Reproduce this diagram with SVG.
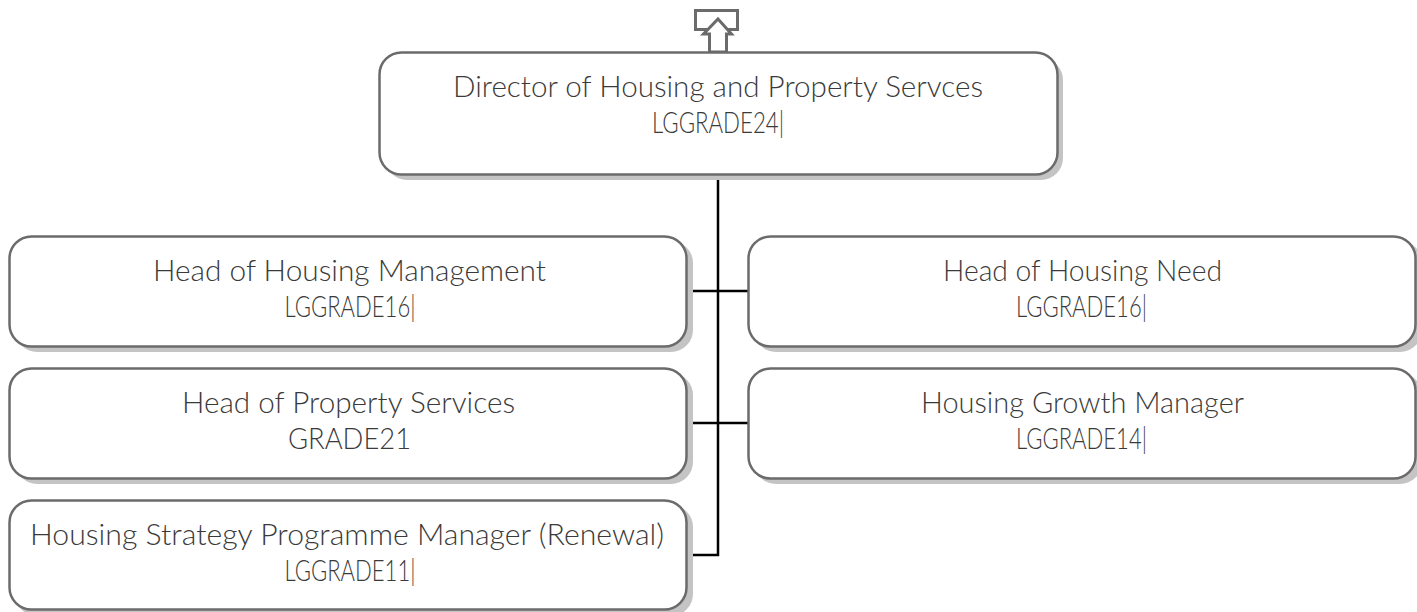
<svg xmlns="http://www.w3.org/2000/svg" width="1417" height="612" viewBox="0 0 1417 612">
<style>
.shadow{fill:#c4c4c4;stroke:none}
.box{fill:#ffffff;stroke:#6b6b6b;stroke-width:2.5}
.t{font-family:Lato,"Open Sans","Liberation Sans",sans-serif;font-weight:300;font-size:29px;fill:#3a3a3a;text-anchor:middle}
.conn{stroke:#000000;stroke-width:2.5;fill:none}
.icon{fill:#ffffff;stroke:#6b6b6b;stroke-width:3}
</style>
<rect width="1417" height="612" fill="#ffffff"/>
<g id="connectors">
<polyline class="conn" points="718,175 718,555 689,555"/>
<line class="conn" x1="689" y1="291" x2="748" y2="291"/>
<line class="conn" x1="689" y1="423" x2="748" y2="423"/>
</g>
<g id="icon">
<rect class="icon" x="695.5" y="10.5" width="42" height="19"/>
<polygon class="icon" points="718,19 731.5,34 726.5,34 726.5,52 709.5,52 709.5,34 703.5,34"/>
</g>
<g id="director">
<rect class="shadow" x="385" y="58" width="678" height="122" rx="22"/>
<rect class="box" x="379.5" y="52.5" width="678" height="122" rx="22"/>
<text class="t" x="718" y="97" textLength="530" lengthAdjust="spacingAndGlyphs">Director of Housing and Property Servces</text>
<text class="t" x="718" y="132.5" textLength="132" lengthAdjust="spacingAndGlyphs">LGGRADE24|</text>
</g>
<g id="head-housing-management">
<rect class="shadow" x="15" y="241" width="678" height="111" rx="22"/>
<rect class="box" x="9.5" y="236.5" width="677" height="110" rx="22"/>
<text class="t" x="349.5" y="281" textLength="393" lengthAdjust="spacingAndGlyphs">Head of Housing Management</text>
<text class="t" x="350" y="316.5" textLength="131" lengthAdjust="spacingAndGlyphs">LGGRADE16|</text>
</g>
<g id="head-housing-need">
<rect class="shadow" x="754" y="241" width="668" height="111" rx="22"/>
<rect class="box" x="748.5" y="236.5" width="667" height="110" rx="22"/>
<text class="t" x="1082.5" y="281" textLength="279" lengthAdjust="spacingAndGlyphs">Head of Housing Need</text>
<text class="t" x="1081.5" y="316.5" textLength="131" lengthAdjust="spacingAndGlyphs">LGGRADE16|</text>
</g>
<g id="head-property-services">
<rect class="shadow" x="15" y="373" width="678" height="111" rx="22"/>
<rect class="box" x="9.5" y="368.5" width="677" height="110" rx="22"/>
<text class="t" x="348.5" y="413" textLength="333" lengthAdjust="spacingAndGlyphs">Head of Property Services</text>
<text class="t" x="349.5" y="448.5" textLength="123" lengthAdjust="spacingAndGlyphs">GRADE21</text>
</g>
<g id="housing-growth-manager">
<rect class="shadow" x="754" y="373" width="668" height="111" rx="22"/>
<rect class="box" x="748.5" y="368.5" width="667" height="110" rx="22"/>
<text class="t" x="1082.5" y="413" textLength="323" lengthAdjust="spacingAndGlyphs">Housing Growth Manager</text>
<text class="t" x="1081.5" y="448.5" textLength="131" lengthAdjust="spacingAndGlyphs">LGGRADE14|</text>
</g>
<g id="housing-strategy-manager">
<rect class="shadow" x="15" y="505" width="678" height="111" rx="22"/>
<rect class="box" x="9.5" y="500.5" width="677" height="109" rx="22"/>
<text class="t" x="347" y="545" textLength="634" lengthAdjust="spacingAndGlyphs">Housing Strategy Programme Manager (Renewal)</text>
<text class="t" x="350" y="580.5" textLength="131" lengthAdjust="spacingAndGlyphs">LGGRADE11|</text>
</g>
</svg>
